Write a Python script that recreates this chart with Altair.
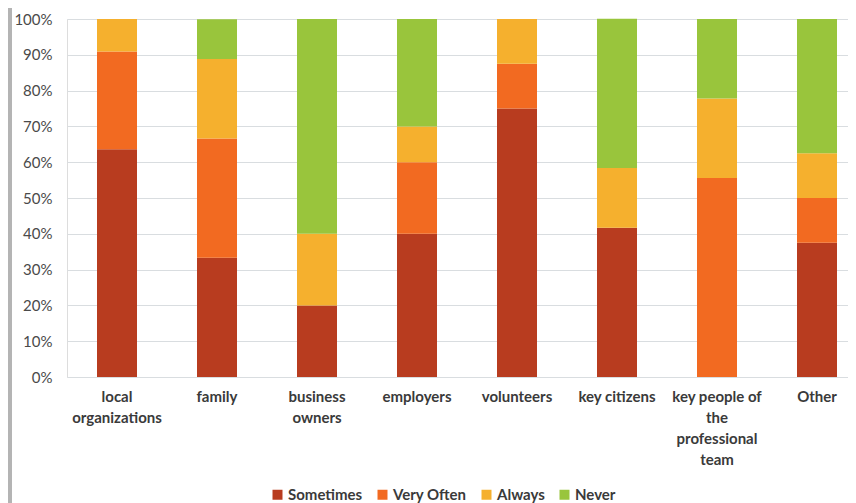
import altair as alt
import pandas as pd

categories = ["local organizations", "family", "business owners", "employers",
              "volunteers", "key citizens", "key people of the professional team", "Other"]
label_lines = {
    "local organizations": ["local", "organizations"],
    "family": ["family"],
    "business owners": ["business", "owners"],
    "employers": ["employers"],
    "volunteers": ["volunteers"],
    "key citizens": ["key citizens"],
    "key people of the professional team": ["key people of", "the", "professional", "team"],
    "Other": ["Other"],
}
series = ["Sometimes", "Very Often", "Always", "Never"]
sometimes = [63.6, 33.3, 20.0, 40.0, 75.0, 41.7, 0.0, 37.5]
very_often = [27.3, 33.3, 0.0, 20.0, 12.5, 0.0, 55.6, 12.5]
always = [9.1, 22.2, 20.0, 10.0, 12.5, 16.7, 22.2, 12.5]
never = [0.0, 11.1, 60.0, 30.0, 0.0, 41.7, 22.2, 37.5]
colors = ["#B83C1F", "#F26A21", "#F5B02E", "#99C53C"]

rows = []
for si, (s, vals) in enumerate(zip(series, [sometimes, very_often, always, never])):
    for c, v in zip(categories, vals):
        rows.append({"category": c, "series": s, "value": v / 100.0, "order": si})
df = pd.DataFrame(rows)

expr_parts = []
for c, lines in label_lines.items():
    arr = "[" + ",".join("'" + l + "'" for l in lines) + "]"
    expr_parts.append(f"datum.label == '{c}' ? {arr}")
label_expr = " : ".join(expr_parts) + " : datum.label"

bars = alt.Chart(df).mark_bar(size=40).encode(
    x=alt.X("category:N", sort=categories, title=None,
            scale=alt.Scale(range=[0, 800], paddingInner=0.6, paddingOuter=0.3),
            axis=alt.Axis(labelAngle=0, labelExpr=label_expr, labelFont="Lato",
                          labelFontWeight="bold", labelFontSize=15, labelColor="#3A3A3A",
                          labelLineHeight=21, labelPadding=12, ticks=False, domain=False,
                          grid=False, labelBaseline="top")),
    y=alt.Y("value:Q", stack="zero", title=None,
            scale=alt.Scale(domain=[0, 1], nice=False),
            axis=alt.Axis(format=".0%", values=[i / 10 for i in range(11)],
                          labelFont="Lato", labelFontSize=15, labelColor="#4A4A4A",
                          ticks=False, domain=False, labelPadding=15,
                          gridColor="#D9DDE0", gridWidth=1)),
    color=alt.Color("series:N", sort=series,
                    scale=alt.Scale(domain=series, range=colors),
                    legend=alt.Legend(title=None, orient="none", direction="horizontal",
                                      legendX=203, legendY=468, symbolType="square",
                                      symbolSize=100, labelFont="Lato", labelFontWeight="bold",
                                      labelFontSize=15, labelColor="#3A3A3A",
                                      labelOffset=3, columnPadding=12,
                                      symbolStrokeWidth=0)),
    order=alt.Order("order:Q", sort="ascending"),
)

strip = alt.Chart(df).mark_rule(color="#B4B4B4", strokeWidth=4).encode(
    x=alt.value(-57), y=alt.value(-11), y2=alt.value(492)
)

chart = alt.layer(strip, bars).properties(
    width=781, height=358,
    autosize=alt.AutoSizeParams(type="none"),
    padding={"left": 59, "top": 11, "right": 0, "bottom": 126},
).configure_view(stroke=None).configure(background="white")

chart.save("out.html", embed_options={"renderer": "svg", "actions": False})
